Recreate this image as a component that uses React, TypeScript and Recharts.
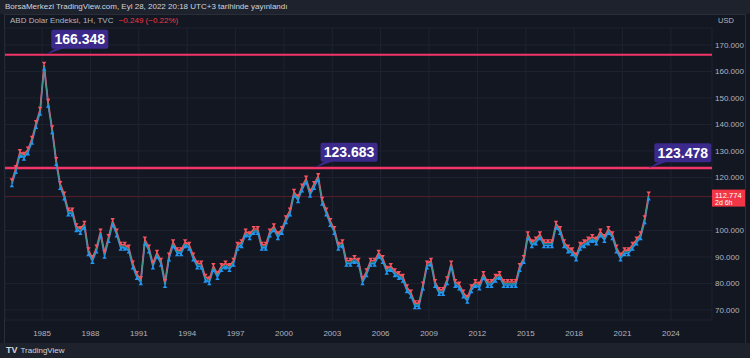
import React from "react";
import {
  ComposedChart,
  Line,
  XAxis,
  YAxis,
  CartesianGrid,
  ReferenceLine,
  ReferenceDot,
} from "recharts";

// quarterly price of the index, 1983 Q1 .. 2022 Q3 (swing extremes kept)
const years = [
  1983, 1984, 1985, 1986, 1987, 1988, 1989, 1990, 1991, 1992, 1993, 1994, 1995,
  1996, 1997, 1998, 1999, 2000, 2001, 2002, 2003, 2004, 2005, 2006, 2007, 2008,
  2009, 2010, 2011, 2012, 2013, 2014, 2015, 2016, 2017, 2018, 2019, 2020, 2021,
  2022,
];

const qPrice = [
  118, 123, 129, 128, // 1983
  130, 134, 140, 145,
  162, 148, 138, 126, // 1985
  117, 113, 107, 107,
  101, 100, 102, 92,
  89, 93, 99, 91, // 1988
  97, 103, 99, 94,
  94, 93, 87, 83,
  81, 96, 93, 87, // 1991
  91, 88, 80, 90,
  95, 92, 92, 95,
  94, 90, 87, 87, // 1994
  82, 81, 86, 83,
  86, 87, 86, 88,
  94, 95, 99, 98, // 1997
  100, 100, 94, 94,
  99, 101, 98, 100,
  104, 107, 114, 112, // 2000
  116, 119, 114, 117,
  120, 111, 107, 103,
  100, 94, 95, 88, // 2003
  88, 89, 88, 81,
  84, 88, 88, 91,
  89, 85, 86, 84, // 2006
  83, 82, 78, 76,
  72, 72, 79, 87,
  88, 80, 77, 77, // 2009
  81, 87, 80, 79,
  76, 74, 78, 80,
  79, 83, 80, 80, // 2012
  82, 83, 80, 80,
  80, 80, 86, 89,
  98, 95, 96, 98, // 2015
  95, 95, 95, 102,
  100, 95, 93, 92,
  90, 94, 95, 96, // 2018
  97, 96, 99, 97,
  100, 98, 93, 90,
  92, 92, 94, 96, // 2021
  98, 104, 113,
];

const xTicks = [1985, 1988, 1991, 1994, 1997, 2000, 2003, 2006, 2009, 2012, 2015, 2018, 2021, 2024];
const yTicks = [70, 80, 90, 100, 120, 130, 140, 150, 160, 170];

const levels = [
  { t: 1985.2, value: 166.348 },
  { t: 2001.9, value: 123.683 },
  { t: 2022.6, value: 123.478 },
];
const lastPrice = 112.774;

const data = qPrice.map((p, i) => ({
  t: years[Math.floor(i / 4)] + (i % 4) * 0.25 + 0.125,
  price: p,
}));

const FONT = "'Liberation Sans', Arial, sans-serif";
const PINK = "#f23668";
const RED = "#f7525f";
const BLUE = "#2196f3";

const DownTri = (p: any) => {
  const { cx, cy, index } = p;
  if (cx == null || cy == null) return <g key={`h${index}`} />;
  const y = cy - 2;
  return (
    <path
      key={`h${index}`}
      d={`M${cx - 2.2},${y - 2.5} L${cx + 2.2},${y - 2.5} L${cx},${y + 1} Z`}
      fill={RED}
    />
  );
};

const UpTri = (p: any) => {
  const { cx, cy, index } = p;
  if (cx == null || cy == null) return <g key={`l${index}`} />;
  const y = cy + 2;
  return (
    <path
      key={`l${index}`}
      d={`M${cx - 2.2},${y + 2.5} L${cx + 2.2},${y + 2.5} L${cx},${y - 1} Z`}
      fill={BLUE}
    />
  );
};

const Callout = (props: any) => {
  const { cx, cy, text } = props;
  const bx = cx + 6;
  const by = cy - 25;
  return (
    <g>
      <path
        d={`M${cx},${cy} L${bx + 5},${by + 18} L${bx + 14},${by + 18} Z`}
        fill="#3b2a8c"
      />
      <rect x={bx} y={by} width={57} height={19} rx={2} fill="#3b2a8c" />
      <text
        x={bx + 28.5}
        y={by + 14.5}
        textAnchor="middle"
        fill="#ffffff"
        fontSize={14}
        fontWeight="bold"
        fontFamily={FONT}
      >
        {text}
      </text>
    </g>
  );
};

const PriceBadge = (props: any) => {
  const { viewBox } = props;
  const x = viewBox.x + viewBox.width;
  const y = viewBox.y;
  return (
    <g>
      <rect x={x} y={y - 7} width={33} height={17} fill="#f23645" />
      <text x={x + 3} y={y + 1} fill="#fff" fontSize={7.5} fontFamily={FONT}>
        112.774
      </text>
      <text x={x + 3} y={y + 8.5} fill="#fff" fontSize={7} fontFamily={FONT}>
        2d 6h
      </text>
    </g>
  );
};

export default function App() {
  return (
    <div
      style={{
        position: "relative",
        width: 750,
        height: 358,
        background: "#131722",
        fontFamily: FONT,
        overflow: "hidden",
      }}
    >
      <style>{`body{margin:0}`}</style>
      <div
        style={{
          position: "absolute",
          left: 0,
          top: 0,
          width: 750,
          height: 14,
          background: "#1e222d",
          color: "#d1d4dc",
          fontSize: 8,
          lineHeight: "14px",
          paddingLeft: 5,
        }}
      >
        BorsaMerkezi TradingView.com, Eyl 28, 2022 20:18 UTC+3 tarihinde yayınlandı
      </div>
      <div
        style={{
          position: "absolute",
          left: 4,
          top: 14,
          width: 740,
          height: 328,
          border: "1px solid #2a2e39",
        }}
      />
      <ComposedChart
        width={750}
        height={343}
        data={data}
        margin={{ top: 28, right: 5, bottom: 0, left: 5 }}
        style={{ position: "absolute", left: 0, top: 0 }}
      >
        <CartesianGrid stroke="#1f2331" strokeWidth={1} />
        <XAxis
          dataKey="t"
          type="number"
          domain={[1982.7, 2026.55]}
          ticks={xTicks}
          allowDataOverflow
          height={23}
          tickLine={false}
          axisLine={false}
          tick={{ fill: "#b2b5be", fontSize: 8, fontFamily: FONT }}
          tickMargin={4}
        />
        <YAxis
          type="number"
          orientation="right"
          domain={[66.2, 176.4]}
          ticks={yTicks}
          allowDataOverflow
          width={33}
          tickLine={false}
          axisLine={false}
          tickSize={0}
          tick={{ fill: "#b2b5be", fontSize: 8, fontFamily: FONT }}
          tickMargin={3}
          tickFormatter={(v: number) => v.toFixed(3)}
        />
        <ReferenceLine y={lastPrice} stroke="#5a1e2a" strokeWidth={1} label={<PriceBadge />} />
        {levels.map((l, i) => (
          <ReferenceLine key={`lv${i}`} y={l.value} stroke={PINK} strokeWidth={2} />
        ))}
        <Line
          type="linear"
          dataKey="price"
          stroke={BLUE}
          strokeWidth={1.6}
          transform="translate(0,1.5)"
          dot={UpTri}
          activeDot={false}
          isAnimationActive={false}
        />
        <Line
          type="linear"
          dataKey="price"
          stroke={RED}
          strokeWidth={1.6}
          transform="translate(0,-1.5)"
          dot={DownTri}
          activeDot={false}
          isAnimationActive={false}
        />
        <Line
          type="linear"
          dataKey="price"
          stroke="#2a9d8f"
          strokeWidth={1}
          dot={false}
          activeDot={false}
          isAnimationActive={false}
        />
        {levels.map((l, i) => (
          <ReferenceDot
            key={`cd${i}`}
            x={l.t}
            y={l.value}
            r={0}
            shape={(p: any) => <Callout {...p} text={l.value.toFixed(3)} />}
          />
        ))}
      </ComposedChart>
      <div
        style={{
          position: "absolute",
          left: 10,
          top: 16,
          fontSize: 8,
          color: "#b2b5be",
          whiteSpace: "nowrap",
        }}
      >
        ABD Dolar Endeksi, 1H, TVC{" "}
        <span style={{ color: "#f23645", marginLeft: 3 }}>−0.249 (−0.22%)</span>
      </div>
      <div style={{ position: "absolute", left: 718, top: 16, fontSize: 7.5, color: "#b2b5be" }}>
        USD
      </div>
      <div
        style={{
          position: "absolute",
          left: 0,
          top: 343,
          width: 750,
          height: 15,
          background: "#1e222d",
          color: "#d1d4dc",
          fontSize: 8,
          lineHeight: "15px",
          paddingLeft: 6,
        }}
      >
        <b style={{ fontSize: 9, marginRight: 3 }}>TV</b>TradingView
      </div>
    </div>
  );
}
